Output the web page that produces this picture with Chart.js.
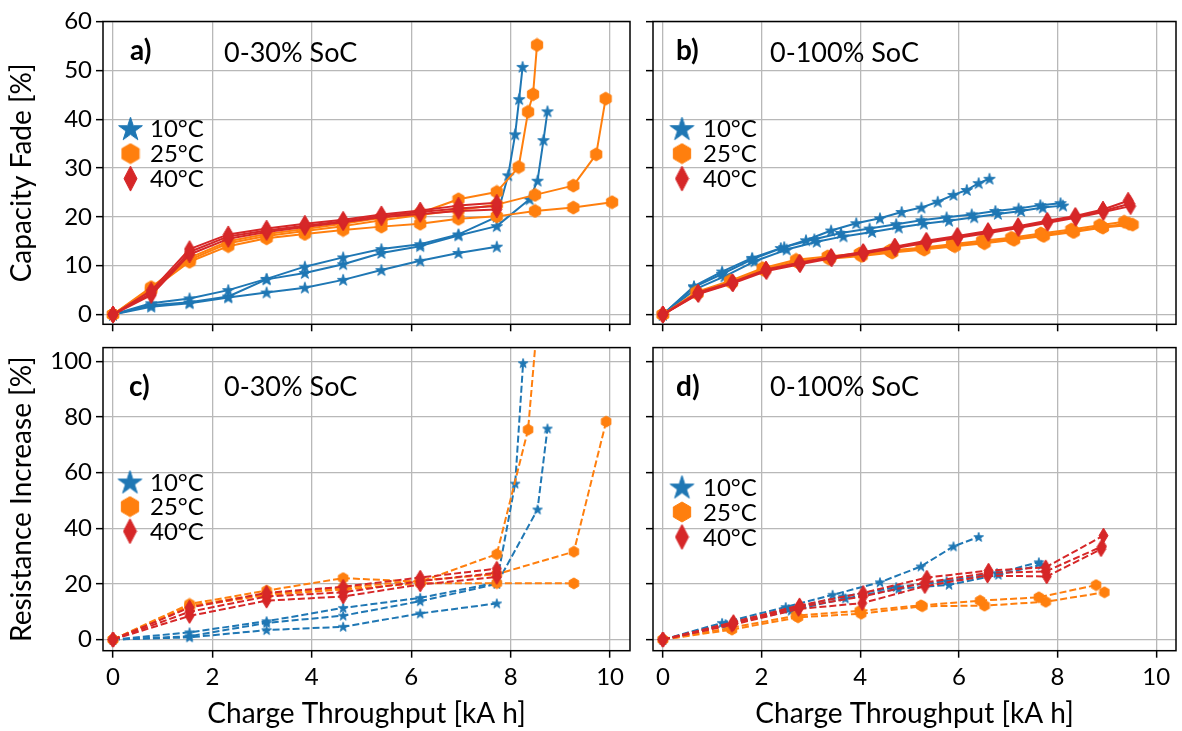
<!DOCTYPE html>
<html lang="en">
<head>
<meta charset="UTF-8">
<title>Capacity Fade and Resistance Increase</title>
<script src="https://cdn.jsdelivr.net/npm/chart.js"></script>
<style>
  body { margin: 0; background: #fff; font-family: Lato, sans-serif; }
  #wrap { position: relative; width: 1182px; height: 731px; overflow: hidden; }
  #wrap canvas { position: absolute; }
</style>
</head>
<body>
<div id="wrap">
  <canvas id="chartA" width="640" height="336" style="left:0;top:0"></canvas>
  <canvas id="chartB" width="552" height="336" style="left:630px;top:0"></canvas>
  <canvas id="chartC" width="640" height="395" style="left:0;top:336px"></canvas>
  <canvas id="chartD" width="552" height="395" style="left:630px;top:336px"></canvas>
</div>
<script>
// legend / colours
const tempLabels = ['10°C', '25°C', '40°C'];
const tempColors = ['#1f77b4', '#ff7f0e', '#d62728'];

// tick values
const xTicks = [0, 2, 4, 6, 8, 10];
const fadeTicks = [0, 10, 20, 30, 40, 50, 60];
const resTicks = [0, 20, 40, 60, 80, 100];

// a) capacity fade, 0-30% SoC
const a10_1x = [0, 0.77, 1.54, 2.32, 3.09, 3.86, 4.63, 5.40, 6.18, 6.95, 7.72, 7.95, 8.09, 8.17, 8.24];
const a10_1y = [0, 2.3, 3.3, 5.0, 7.3, 9.8, 11.7, 13.4, 14.4, 16.4, 20.0, 28.5, 36.9, 44.1, 50.7];
const a10_2x = [0, 0.77, 1.54, 2.32, 3.09, 3.86, 4.63, 5.40, 6.18, 6.95, 7.72, 8.38, 8.54, 8.66, 8.74];
const a10_2y = [0, 1.9, 2.5, 3.7, 7.2, 8.5, 10.3, 12.6, 14.0, 16.2, 18.1, 23.6, 27.4, 35.7, 41.6];
const a10_3x = [0, 0.77, 1.54, 2.32, 3.09, 3.86, 4.63, 5.40, 6.18, 6.95, 7.72];
const a10_3y = [0, 1.6, 2.3, 3.5, 4.5, 5.5, 7.1, 9.1, 11.0, 12.6, 13.9];
const a25_1x = [0, 0.77, 1.54, 2.32, 3.09, 3.86, 4.63, 5.40, 6.18, 6.95, 7.72, 8.16, 8.35, 8.45, 8.53];
const a25_1y = [0, 5.6, 11.6, 15.0, 16.5, 17.5, 18.6, 19.8, 20.8, 23.6, 25.1, 30.2, 41.5, 45.1, 55.2];
const a25_2x = [0, 0.77, 1.54, 2.32, 3.09, 3.86, 4.63, 5.40, 6.18, 6.95, 7.72, 8.49, 9.26, 9.72, 9.91];
const a25_2y = [0, 5.3, 11.2, 14.6, 16.1, 17.1, 18.1, 19.3, 20.4, 21.4, 22.5, 24.5, 26.4, 32.8, 44.2];
const a25_3x = [0, 0.77, 1.54, 2.32, 3.09, 3.86, 4.63, 5.40, 6.18, 6.95, 7.72, 8.49, 9.26, 10.04];
const a25_3y = [0, 5.0, 10.8, 14.0, 15.6, 16.5, 17.3, 18.0, 18.6, 19.6, 20.1, 21.2, 21.9, 23.0];
const a40_x = [0, 0.77, 1.54, 2.32, 3.09, 3.86, 4.63, 5.40, 6.18, 6.95, 7.72];
const a40_1y = [0, 4.9, 13.4, 16.4, 17.6, 18.6, 19.4, 20.5, 21.3, 22.3, 22.9];
const a40_2y = [0, 4.4, 12.8, 16.0, 17.2, 18.2, 19.1, 20.2, 21.0, 21.7, 22.2];
const a40_3y = [0, 4.0, 12.3, 15.5, 16.9, 17.9, 18.9, 19.9, 20.6, 21.2, 21.5];

// b) capacity fade, 0-100% SoC
const b10_1x = [0, 0.63, 1.2, 1.81, 2.39, 2.9, 3.41, 3.92, 4.4, 4.84, 5.24, 5.57, 5.89, 6.16, 6.4, 6.62];
const b10_1y = [0, 5.8, 8.8, 11.6, 13.6, 15.2, 17.2, 18.7, 19.7, 21.0, 21.9, 23.1, 24.5, 25.5, 26.9, 27.8];
const b10_2x = [0, 0.63, 1.2, 1.81, 2.46, 3.07, 3.61, 4.19, 4.73, 5.24, 5.75, 6.26, 6.74, 7.21, 7.65, 8.06];
const b10_2y = [0, 5.6, 8.3, 11.3, 13.8, 15.4, 16.7, 17.6, 18.5, 19.3, 19.9, 20.5, 21.2, 21.7, 22.4, 22.8];
const b10_3x = [0, 0.66, 1.25, 1.86, 2.51, 3.12, 3.66, 4.24, 4.78, 5.29, 5.8, 6.31, 6.79, 7.26, 7.7, 8.11];
const b10_3y = [0, 5.2, 7.8, 10.9, 13.3, 14.9, 16.0, 16.9, 17.8, 18.6, 19.2, 19.9, 20.6, 21.2, 21.9, 22.3];
const b25_1x = [0, 0.68, 1.36, 2.02, 2.7, 3.34, 3.99, 4.6, 5.24, 5.86, 6.47, 7.06, 7.66, 8.28, 8.85, 9.35];
const b25_1y = [0, 4.6, 6.9, 9.5, 11.2, 11.9, 12.5, 13.1, 13.7, 14.4, 15.1, 15.7, 16.6, 17.4, 18.3, 19.0];
const b25_2x = [0, 0.7, 1.4, 2.06, 2.74, 3.38, 4.03, 4.65, 5.3, 5.92, 6.52, 7.12, 7.72, 8.33, 8.92, 9.52];
const b25_2y = [0, 4.3, 6.5, 9.1, 10.7, 11.4, 12.0, 12.7, 13.3, 14.0, 14.6, 15.3, 16.1, 16.9, 17.8, 18.4];
const b25_3x = [0, 0.69, 1.38, 2.04, 2.72, 3.36, 4.01, 4.62, 5.27, 5.89, 6.5, 7.09, 7.69, 8.3, 8.88, 9.45];
const b25_3y = [0, 4.4, 6.7, 9.3, 10.9, 11.6, 12.2, 12.9, 13.5, 14.2, 14.8, 15.5, 16.3, 17.1, 18.0, 18.6];
const b40_1x = [0, 0.71, 1.41, 2.09, 2.77, 3.41, 4.06, 4.7, 5.34, 5.97, 6.59, 7.2, 7.79, 8.36, 8.92, 9.43];
const b40_1y = [0, 4.5, 6.6, 9.2, 10.6, 11.8, 12.8, 13.9, 15.1, 16.1, 17.1, 18.1, 19.2, 20.2, 21.5, 23.3];
const b40_2x = [0, 0.71, 1.41, 2.09, 2.77, 3.41, 4.06, 4.7, 5.34, 5.97, 6.59, 7.2, 7.79, 8.36, 8.92, 9.46];
const b40_2y = [0, 4.3, 6.5, 9.1, 10.5, 11.7, 12.7, 13.8, 14.9, 15.9, 16.9, 17.9, 19.0, 20.0, 21.2, 22.7];
const b40_3x = [0, 0.72, 1.42, 2.1, 2.78, 3.42, 4.07, 4.71, 5.35, 5.98, 6.6, 7.21, 7.8, 8.37, 8.93, 9.48];
const b40_3y = [0, 4.2, 6.4, 8.9, 10.3, 11.5, 12.5, 13.6, 14.7, 15.7, 16.7, 17.7, 18.8, 19.8, 21.0, 22.2];

// c) resistance increase, 0-30% SoC
const c10_1x = [0, 1.54, 3.09, 4.63, 6.18, 7.72, 8.09, 8.25];
const c10_1y = [0, 2.6, 6.6, 11.4, 15.0, 20.5, 56.1, 99.4];
const c10_2x = [0, 1.54, 3.09, 4.63, 6.18, 7.72, 8.54, 8.74];
const c10_2y = [0, 1.2, 6.0, 8.6, 13.8, 20.0, 46.8, 75.9];
const c10_3x = [0, 1.54, 3.09, 4.63, 6.18, 7.72];
const c10_3y = [0, 0.8, 3.4, 4.6, 9.4, 13.0];
const c25_1x = [0, 1.54, 3.09, 4.63, 6.18, 7.72, 8.35, 8.53];
const c25_1y = [0, 12.8, 17.6, 22.1, 20.8, 30.7, 75.5, 113];
const c25_2x = [0, 1.54, 3.09, 4.63, 6.18, 7.72, 9.27, 9.92];
const c25_2y = [0, 12.2, 16.5, 18.6, 21.3, 23.5, 31.6, 78.4];
const c25_3x = [0, 1.54, 3.09, 4.63, 6.18, 7.72, 9.27];
const c25_3y = [0, 11.8, 16.0, 18.0, 20.3, 20.3, 20.2];
const c40_x = [0, 1.54, 3.09, 4.63, 6.18, 7.72];
const c40_1y = [0, 11.5, 16.8, 19.0, 22.3, 25.5];
const c40_2y = [0, 10.0, 15.5, 17.0, 21.0, 24.0];
const c40_3y = [0, 8.5, 14.0, 15.5, 19.8, 22.5];

// d) resistance increase, 0-100% SoC
const d10_1x = [0, 1.2, 2.49, 3.44, 4.4, 5.23, 5.89, 6.4];
const d10_1y = [0, 6.0, 11.7, 16.1, 20.6, 26.3, 33.5, 36.9];
const d10_2x = [0, 1.27, 2.55, 3.65, 4.73, 5.75, 6.77, 7.62];
const d10_2y = [0, 5.6, 11.0, 15.5, 18.9, 21.0, 23.9, 27.8];
const d10_3x = [0, 1.3, 2.6, 3.7, 4.78, 5.8, 6.8, 7.67];
const d10_3y = [0, 5.2, 10.4, 14.8, 18.3, 19.7, 23.3, 26.9];
const d25_1x = [0, 1.37, 2.7, 3.99, 5.23, 6.43, 7.62, 8.78];
const d25_1y = [0, 4.2, 8.6, 10.3, 12.3, 14.0, 15.2, 19.6];
const d25_2x = [0, 1.4, 2.74, 4.02, 5.26, 6.52, 7.76, 8.95];
const d25_2y = [0, 3.6, 8.0, 9.3, 12.0, 12.2, 13.6, 17.0];
const d40_1x = [0, 1.43, 2.77, 4.06, 5.35, 6.6, 7.76, 8.93];
const d40_1y = [0, 6.3, 12.3, 16.8, 22.3, 24.8, 26.0, 37.4];
const d40_2x = [0, 1.43, 2.77, 4.06, 5.31, 6.6, 7.76, 8.9];
const d40_2y = [0, 5.8, 11.8, 15.5, 20.5, 24.0, 24.5, 33.5];
const d40_3x = [0, 1.4, 2.75, 4.04, 5.31, 6.58, 7.78, 8.88];
const d40_3y = [0, 5.3, 11.0, 13.1, 19.2, 23.0, 22.7, 32.5];

Chart.defaults.font.family = 'Lato, sans-serif';
Chart.defaults.color = '#000';

// matplotlib-like markers: star, hexagon, thin diamond
function marker(shape, w, h, color) {
  const c = document.createElement('canvas');
  c.width = Math.ceil(w) + 2;
  c.height = Math.ceil(h) + 2;
  const g = c.getContext('2d');
  const cx = c.width / 2, cy = c.height / 2;
  g.beginPath();
  if (shape === 'star') {
    const R = w / 2, r = R * 0.382;
    for (let k = 0; k < 10; k++) {
      const ang = -Math.PI / 2 + k * Math.PI / 5;
      const rad = k % 2 ? r : R;
      g.lineTo(cx + rad * Math.cos(ang), cy + rad * Math.sin(ang) + R * 0.08);
    }
  } else if (shape === 'hex') {
    const R = h / 2;
    for (let k = 0; k < 6; k++) {
      const ang = -Math.PI / 2 + k * Math.PI / 3;
      g.lineTo(cx + R * Math.cos(ang), cy + R * Math.sin(ang));
    }
  } else {
    g.moveTo(cx, cy - h / 2);
    g.lineTo(cx + w / 2, cy);
    g.lineTo(cx, cy + h / 2);
    g.lineTo(cx - w / 2, cy);
  }
  g.closePath();
  g.fillStyle = color;
  g.fill();
  g.strokeStyle = color;
  g.lineWidth = 1;
  g.stroke();
  return c;
}

const bigMarks = [marker('star', 12, 12, tempColors[0]), marker('hex', 12, 13, tempColors[1]), marker('dia', 10, 17, tempColors[2])];
const smallMarks = [marker('star', 10, 10, tempColors[0]), marker('hex', 10, 11, tempColors[1]), marker('dia', 9, 15, tempColors[2])];
const legendMarks = [marker('star', 25, 25, tempColors[0]), marker('hex', 18, 20, tempColors[1]), marker('dia', 13, 25, tempColors[2])];

function series(xs, ys, t, dashed, marks) {
  return {
    data: xs.map((x, i) => ({ x: x, y: ys[i] })),
    showLine: true,
    borderColor: tempColors[t],
    backgroundColor: tempColors[t],
    borderWidth: 2,
    borderDash: dashed ? [7, 3] : [],
    borderJoinStyle: 'round',
    pointStyle: marks[t],
    order: 2 - t,
    tension: 0
  };
}

// frame, panel letter, SoC text and the inline legend
const panelDeco = {
  id: 'panelDeco',
  afterDatasetsDraw(chart, args, o) {
    const ctx = chart.ctx, a = chart.chartArea;
    ctx.save();
    ctx.strokeStyle = '#000';
    ctx.lineWidth = 1.5;
    ctx.strokeRect(a.left, a.top, a.right - a.left, a.bottom - a.top);
    ctx.fillStyle = '#000';
    ctx.textAlign = 'left';
    ctx.textBaseline = 'alphabetic';
    ctx.font = 'bold 28px Lato';
    ctx.fillText(o.letter, o.letterX - o.ox, o.letterY - o.oy);
    ctx.font = '27px Lato';
    ctx.fillText(o.soc, o.socX - o.ox, o.socY - o.oy);
    ctx.font = '24px Lato';
    ctx.textBaseline = 'middle';
    tempLabels.forEach((lab, i) => {
      const m = legendMarks[i];
      const y = o.legY - o.oy + i * o.gap;
      ctx.drawImage(m, o.legX - o.ox - m.width / 2, y - m.height / 2);
      ctx.fillText(lab, o.legTextX - o.ox, y + 1);
    });
    ctx.restore();
  }
};

function xScale(showLabels, height) {
  return {
    type: 'linear', min: -0.2, max: 10.4,
    afterBuildTicks: s => { s.ticks = xTicks.map(v => ({ value: v })); },
    afterFit: s => { s.height = height; s.paddingLeft = 0; s.paddingRight = 0; },
    grid: { color: '#b8b8b8', lineWidth: 1.3, tickColor: '#000', tickWidth: 1.5, tickLength: 7 },
    border: { display: false },
    ticks: { display: showLabels, font: { size: 24 }, color: '#000', padding: 5, maxRotation: 0 },
    title: { display: showLabels, text: 'Charge Throughput [kA h]', font: { size: 28 }, color: '#000', padding: { top: 0, bottom: 0 } }
  };
}

function yScale(min, max, ticks, showLabels, width, title) {
  return {
    type: 'linear', min: min, max: max,
    afterBuildTicks: s => { s.ticks = ticks.map(v => ({ value: v })); },
    afterFit: s => { s.width = width; s.paddingTop = 0; s.paddingBottom = 0; },
    grid: { color: '#b8b8b8', lineWidth: 1.3, tickColor: '#000', tickWidth: 1.5, tickLength: 7 },
    border: { display: false },
    ticks: { display: showLabels, font: { size: 24 }, color: '#000', padding: 4 },
    title: { display: showLabels, text: title, font: { size: 28 }, color: '#000', padding: { top: 5, bottom: 0 } }
  };
}

function makeChart(id, datasets, xs, ys, padding, deco) {
  return new Chart(document.getElementById(id), {
    type: 'scatter',
    data: { datasets: datasets },
    options: {
      responsive: false,
      devicePixelRatio: 1,
      animation: false,
      events: [],
      layout: { padding: padding },
      scales: { x: xs, y: ys },
      plugins: { legend: { display: false }, tooltip: { enabled: false }, panelDeco: deco }
    },
    plugins: [panelDeco]
  });
}

makeChart('chartA', [
  series(a10_1x, a10_1y, 0, false, bigMarks),
  series(a10_2x, a10_2y, 0, false, bigMarks),
  series(a10_3x, a10_3y, 0, false, bigMarks),
  series(a25_1x, a25_1y, 1, false, bigMarks),
  series(a25_2x, a25_2y, 1, false, bigMarks),
  series(a25_3x, a25_3y, 1, false, bigMarks),
  series(a40_x, a40_1y, 2, false, bigMarks),
  series(a40_x, a40_2y, 2, false, bigMarks),
  series(a40_x, a40_3y, 2, false, bigMarks)
], xScale(false, 11.7), yScale(-2, 60, fadeTicks, true, 103, 'Capacity Fade [%]'),
  { top: 21.5, right: 10, bottom: 0, left: 0 },
  { ox: 0, oy: 0, letter: 'a)', letterX: 130, letterY: 60, soc: '0-30% SoC', socX: 224, socY: 62,
    legX: 130.5, legY: 128.6, legTextX: 150, gap: 25 });

makeChart('chartB', [
  series(b10_1x, b10_1y, 0, false, bigMarks),
  series(b10_2x, b10_2y, 0, false, bigMarks),
  series(b10_3x, b10_3y, 0, false, bigMarks),
  series(b25_1x, b25_1y, 1, false, bigMarks),
  series(b25_2x, b25_2y, 1, false, bigMarks),
  series(b25_3x, b25_3y, 1, false, bigMarks),
  series(b40_1x, b40_1y, 2, false, bigMarks),
  series(b40_2x, b40_2y, 2, false, bigMarks),
  series(b40_3x, b40_3y, 2, false, bigMarks)
], xScale(false, 11.7), yScale(-2, 60, fadeTicks, false, 23, ''),
  { top: 21.5, right: 2, bottom: 0, left: 0 },
  { ox: 630, oy: 0, letter: 'b)', letterX: 676, letterY: 60, soc: '0-100% SoC', socX: 770, socY: 62,
    legX: 682, legY: 128.6, legTextX: 703, gap: 25 });

makeChart('chartC', [
  series(c10_1x, c10_1y, 0, true, smallMarks),
  series(c10_2x, c10_2y, 0, true, smallMarks),
  series(c10_3x, c10_3y, 0, true, smallMarks),
  series(c25_1x, c25_1y, 1, true, smallMarks),
  series(c25_2x, c25_2y, 1, true, smallMarks),
  series(c25_3x, c25_3y, 1, true, smallMarks),
  series(c40_x, c40_1y, 2, true, smallMarks),
  series(c40_x, c40_2y, 2, true, smallMarks),
  series(c40_x, c40_3y, 2, true, smallMarks)
], xScale(true, 80.3), yScale(-4, 105, resTicks, true, 103, 'Resistance Increase [%]'),
  { top: 11.6, right: 10, bottom: 0, left: 0 },
  { ox: 0, oy: 336, letter: 'c)', letterX: 129, letterY: 395.5, soc: '0-30% SoC', socX: 224, socY: 396,
    legX: 130, legY: 482, legTextX: 150, gap: 24.6 });

makeChart('chartD', [
  series(d10_1x, d10_1y, 0, true, smallMarks),
  series(d10_2x, d10_2y, 0, true, smallMarks),
  series(d10_3x, d10_3y, 0, true, smallMarks),
  series(d25_1x, d25_1y, 1, true, smallMarks),
  series(d25_2x, d25_2y, 1, true, smallMarks),
  series(d40_1x, d40_1y, 2, true, smallMarks),
  series(d40_2x, d40_2y, 2, true, smallMarks),
  series(d40_3x, d40_3y, 2, true, smallMarks)
], xScale(true, 80.3), yScale(-4, 105, resTicks, false, 23, ''),
  { top: 11.6, right: 2, bottom: 0, left: 0 },
  { ox: 630, oy: 336, letter: 'd)', letterX: 676, letterY: 395.5, soc: '0-100% SoC', socX: 770, socY: 396,
    legX: 682, legY: 487, legTextX: 703, gap: 25 });
</script>
</body>
</html>
